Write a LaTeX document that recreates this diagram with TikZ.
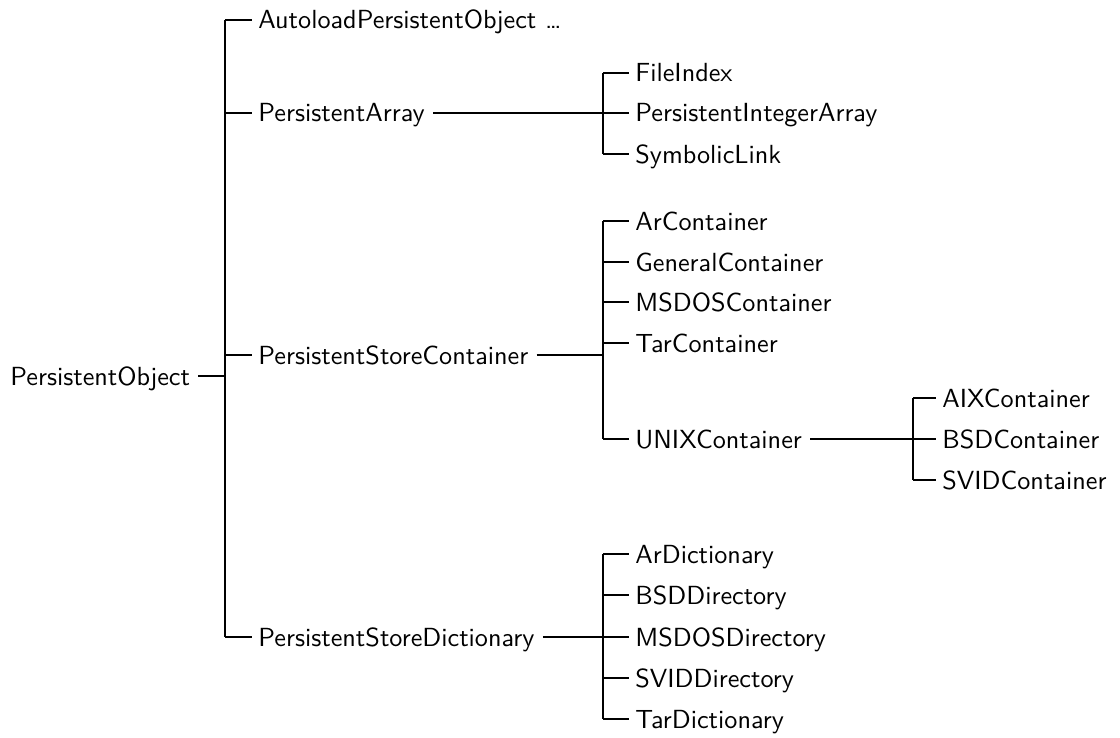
\documentclass[tikz,border=0pt]{standalone}
\usepackage{fontspec}
% Latin Modern Sans at its 10pt design size, scaled up
\newfontfamily\classfont[Extension=.otf]{lmsans10-regular}
\begin{document}
\begin{tikzpicture}[x=0.5pt,y=-0.5pt,
  cls/.style={anchor=west,inner xsep=0pt,inner ysep=0pt,text height=9pt,text depth=0pt,
    font=\fontsize{13.1}{15}\classfont},
  link/.style={line width=1pt,line cap=butt},
  outlink/.style={link,shorten <=4pt},
  ticklink/.style={link,shorten >=3pt}]
\useasboundingbox (0,0) rectangle (1120,738);

% root and first level
\node[cls] (root) at (10,376) {PersistentObject};
\coordinate (trunk) at (225,0);
\node[cls] (auto) at (258,20)  {AutoloadPersistentObject \ldots};
\node[cls] (pa)   at (258,113) {PersistentArray};
\node[cls] (psc)  at (258,355) {PersistentStoreContainer};
\node[cls] (psd)  at (258,637) {PersistentStoreDictionary};

% second level
\coordinate (v2) at (603,0);
\node[cls] (fi)   at (635,73)  {FileIndex};
\node[cls] (pia)  at (635,113) {PersistentIntegerArray};
\node[cls] (sl)   at (635,154) {SymbolicLink};

\node[cls] (arc)  at (635,221) {ArContainer};
\node[cls] (gc)   at (635,262) {GeneralContainer};
\node[cls] (msc)  at (635,302) {MSDOSContainer};
\node[cls] (tc)   at (635,343) {TarContainer};
\node[cls] (uc)   at (635,439) {UNIXContainer};

\node[cls] (ard)  at (635,554) {ArDictionary};
\node[cls] (bsdd) at (635,595) {BSDDirectory};
\node[cls] (msd)  at (635,637) {MSDOSDirectory};
\node[cls] (svd)  at (635,678) {SVIDDirectory};
\node[cls] (tard) at (635,719) {TarDictionary};

% third level
\coordinate (v3) at (913,0);
\node[cls] (aix)  at (942,398) {AIXContainer};
\node[cls] (bsdc) at (942,439) {BSDContainer};
\node[cls] (svc)  at (942,480) {SVIDContainer};

% connectors: root
\draw[outlink] (root.east) -- (root.east -| trunk);
\draw[link] (auto.west -| trunk) -- (psd.west -| trunk);
\foreach \n in {auto,pa,psc,psd}
  \draw[ticklink] (\n.west -| trunk) -- (\n.west);

% PersistentArray
\draw[outlink] (pa.east) -- (pa.east -| v2);
\draw[link] (fi.west -| v2) -- (sl.west -| v2);
\foreach \n in {fi,pia,sl}
  \draw[ticklink] (\n.west -| v2) -- (\n.west);

% PersistentStoreContainer
\draw[outlink] (psc.east) -- (psc.east -| v2);
\draw[link] (arc.west -| v2) -- (uc.west -| v2);
\foreach \n in {arc,gc,msc,tc,uc}
  \draw[ticklink] (\n.west -| v2) -- (\n.west);

% UNIXContainer
\draw[outlink] (uc.east) -- (uc.east -| v3);
\draw[link] (aix.west -| v3) -- (svc.west -| v3);
\foreach \n in {aix,bsdc,svc}
  \draw[ticklink] (\n.west -| v3) -- (\n.west);

% PersistentStoreDictionary
\draw[outlink] (psd.east) -- (psd.east -| v2);
\draw[link] (ard.west -| v2) -- (tard.west -| v2);
\foreach \n in {ard,bsdd,msd,svd,tard}
  \draw[ticklink] (\n.west -| v2) -- (\n.west);
\end{tikzpicture}
\end{document}
